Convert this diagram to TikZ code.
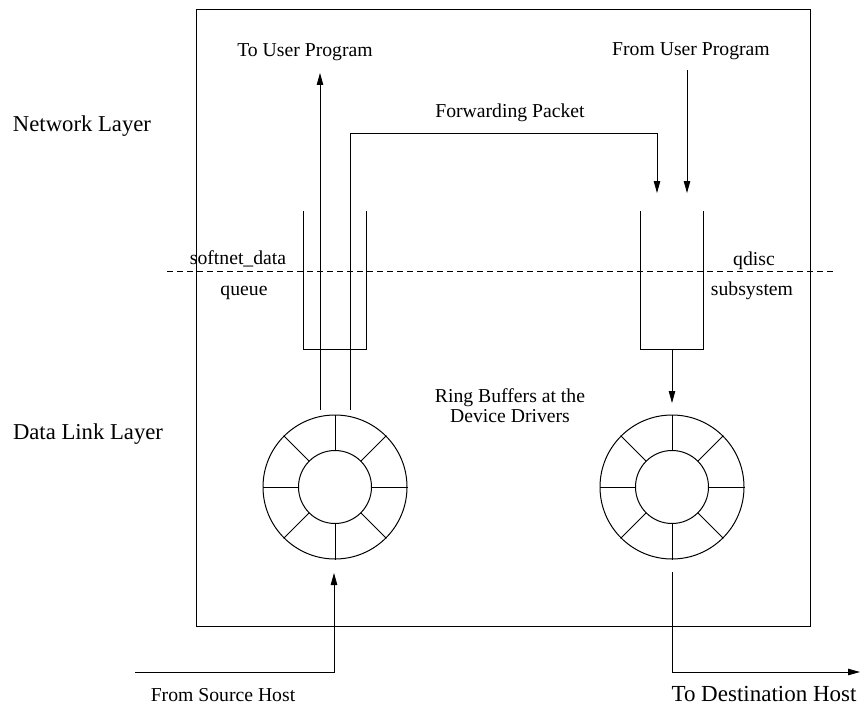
\documentclass[tikz,border=0pt]{standalone}
\usepackage{fontspec}
\setmainfont{Liberation Serif}
\usetikzlibrary{arrows.meta,calc}
\begin{document}
\begin{tikzpicture}[x=1pt,y=-1pt, line width=0.8pt,
  arr/.style={-{Triangle[length=12pt,width=6.5pt]}},
  lbl/.style={font=\fontsize{19.7}{20}\selectfont, inner sep=0pt, anchor=base},
  big/.style={font=\fontsize{22.7}{24}\selectfont, inner sep=0pt, anchor=base},
  ringout/.style={circle, draw, line width=1pt, inner sep=0pt, minimum size=144pt},
  ringin/.style={circle, draw, line width=1pt, inner sep=0pt, minimum size=73pt},
  queuebox/.style={inner sep=0pt, minimum width=62pt, minimum height=138pt},
  divider/.style={dash pattern=on 6pt off 4pt, line width=0.8pt}]
\useasboundingbox (0,0) rectangle (862,706);

% outer box
\node[draw, inner sep=0pt, minimum width=614pt, minimum height=617pt] (box) at (503,317.5) {};

% dashed divider
\coordinate (dashL) at (167,271);
\coordinate (dashR) at (836,271);
\draw[divider] (dashL) -- (dashR);

% queues
\node[queuebox] (qL) at (335,280) {};
\node[queuebox] (qR) at (672,280) {};
\draw (qL.north west) -- (qL.south west) -- (qL.south east) -- (qL.north east);
\draw (qR.north west) -- (qR.south west) -- (qR.south east) -- (qR.north east);

% rings
\foreach \n/\cx in {L/335, R/672} {
  \node[ringout] (ring\n) at (\cx,487) {};
  \node[ringin] (ringi\n) at (\cx,487) {};
  \foreach \a in {0,45,...,315} {
    \draw[line width=1pt] (ringi\n.\a) -- (ring\n.\a);
  }
}

% labels
\node[big] (nl) at (82,131.5) {Network Layer};
\node[big] (dll) at (88,439) {Data Link Layer};
\node[lbl] (tup) at (305,56.5) {To User Program};
\node[lbl] (fup) at (691,56) {From User Program};
\node[lbl] (fwd) at (510,118) {Forwarding Packet};
\node[lbl] (snd) at (238,264) {softnet\_data};
\node[lbl] (que) at (244,295) {queue};
\node[lbl] (qd) at (754,265) {qdisc};
\node[lbl] (sub) at (752,295) {subsystem};
\node[lbl] (rb1) at (510,402.5) {Ring Buffers at the};
\node[lbl] (rb2) at (510,422.5) {Device Drivers};
\node[lbl] (fsh) at (223,701.5) {From Source Host};
\node[lbl, font=\fontsize{23}{24}\selectfont] (tdh) at (764,701.5) {To Destination Host};

% connectors, left side
\coordinate (upA) at (320,410);
\coordinate (upAtip) at (320,73);
\draw[arr] (upA) -- (upAtip);
\coordinate (upB) at (350,410);
\coordinate (fwd1) at (350,133);
\coordinate (fwd2) at (657,133);
\coordinate (fwdTip) at (657,193);
\draw[arr] (upB) -- (fwd1) -- (fwd2) -- (fwdTip);

% right side
\coordinate (fupStart) at (687,70);
\coordinate (fupTip) at (687,193);
\draw[arr] (fupStart) -- (fupTip);
\coordinate (rdTip) at (672,403);
\draw[arr] (qR.south) -- (rdTip);

% bottom
\coordinate (srcStart) at (135,672);
\coordinate (srcCorner) at (334,672);
\coordinate (srcTip) at (334,573);
\draw[arr] (srcStart) -- (srcCorner) -- (srcTip);
\coordinate (dstStart) at (672,572);
\coordinate (dstCorner) at (672,672);
\coordinate (dstTip) at (860,672);
\draw[arr] (dstStart) -- (dstCorner) -- (dstTip);
\end{tikzpicture}
\end{document}
